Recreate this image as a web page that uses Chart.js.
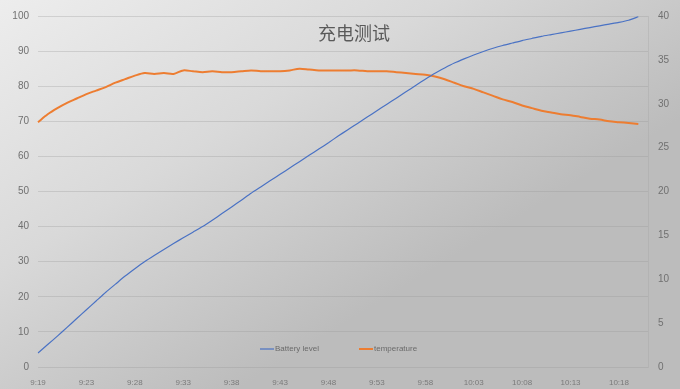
<!DOCTYPE html>
<html>
<head>
<meta charset="utf-8">
<script src="https://cdn.jsdelivr.net/npm/chart.js@4.4.0/dist/chart.umd.min.js"></script>
<style>
  html, body { margin: 0; padding: 0; background: #d8d8d8; }
  #wrap { width: 680px; height: 389px; position: relative; }
</style>
</head>
<body>
<div id="wrap"><canvas id="c" width="680" height="389"></canvas></div>
<script>
const chartTitle = "充电测试";
const timeLabels = [
  "9:19","9:20","9:21","9:22","9:22","9:23","9:24","9:25","9:26","9:27",
  "9:28","9:29","9:30","9:31","9:32","9:33","9:34","9:35","9:36","9:37",
  "9:38","9:39","9:40","9:41","9:42","9:43","9:44","9:45","9:46","9:47",
  "9:48","9:49","9:50","9:51","9:52","9:53","9:54","9:55","9:56","9:57",
  "9:58","9:59","10:00","10:01","10:02","10:03","10:04","10:05","10:06","10:07",
  "10:08","10:09","10:10","10:11","10:12","10:13","10:14","10:15","10:16","10:17",
  "10:18","10:19","10:20","10:21"
];
const batteryLevel = [
  4, 6.4, 8.8, 11.3, 13.8, 16.3, 18.8, 21.3, 23.6, 25.9,
  28, 30, 31.8, 33.5, 35.2, 36.8, 38.4, 40, 41.8, 43.7,
  45.6, 47.5, 49.5, 51.3, 53.1, 54.9, 56.7, 58.5, 60.3, 62.1,
  63.9, 65.8, 67.6, 69.4, 71.2, 73.0, 74.8, 76.6, 78.4, 80.2,
  82.0, 83.7, 85.2, 86.6, 87.8, 88.9, 89.9, 90.8, 91.6, 92.3,
  93.0, 93.6, 94.2, 94.7, 95.2, 95.7, 96.2, 96.7, 97.2, 97.7,
  98.2, 98.8, 99.8, null
];
const temperature = [
  27.9, 28.8, 29.5, 30.1, 30.6, 31.1, 31.5, 31.9, 32.4, 32.8,
  33.2, 33.5, 33.4, 33.5, 33.4, 33.8, 33.7, 33.6, 33.7, 33.6,
  33.6, 33.7, 33.8, 33.7, 33.7, 33.7, 33.8, 34.0, 33.9, 33.8,
  33.8, 33.8, 33.8, 33.8, 33.7, 33.7, 33.7, 33.6, 33.5, 33.4,
  33.3, 33.1, 32.8, 32.4, 32.0, 31.7, 31.3, 30.9, 30.5, 30.2,
  29.8, 29.5, 29.2, 29.0, 28.8, 28.7, 28.5, 28.3, 28.2, 28.0,
  27.9, 27.8, 27.7, null
];
const seriesNames = ["Battery level", "temperature"];
const seriesColors = ["#4a72c4", "#ed7d31"];

const bgPlugin = {
  id: 'bg',
  beforeDraw(chart) {
    const ctx = chart.ctx;
    const w = chart.width, h = chart.height;
    ctx.save();
    const g = ctx.createLinearGradient(0, 0, w * 0.35, h);
    g.addColorStop(0, '#ededed');
    g.addColorStop(0.5, '#d9d9d9');
    g.addColorStop(1, '#bcbcbc');
    ctx.fillStyle = g;
    ctx.fillRect(0, 0, w, h);
    ctx.restore();
  }
};

const overlayPlugin = {
  id: 'overlay',
  afterDraw(chart) {
    const ctx = chart.ctx;
    ctx.save();
    ctx.font = '18px "Noto Sans CJK SC", sans-serif';
    ctx.fillStyle = '#5a5a5a';
    ctx.textAlign = 'center';
    ctx.textBaseline = 'middle';
    ctx.fillText(chartTitle, 354, 33);
    ctx.font = '8px "Liberation Sans", Arial, sans-serif';
    ctx.textAlign = 'left';
    const starts = [260, 359];
    chart.data.datasets.forEach((ds, i) => {
      const x = starts[i], y = 349;
      ctx.strokeStyle = ds.borderColor;
      ctx.lineWidth = ds.borderWidth;
      ctx.beginPath();
      ctx.moveTo(x, y);
      ctx.lineTo(x + 14, y);
      ctx.stroke();
      ctx.fillStyle = '#6a6a6a';
      ctx.fillText(ds.label, x + 15, y);
    });
    ctx.restore();
  }
};

new Chart(document.getElementById('c'), {
  type: 'line',
  data: {
    labels: timeLabels,
    datasets: [
      {
        label: seriesNames[0],
        data: batteryLevel,
        borderColor: seriesColors[0],
        borderWidth: 1.2,
        pointRadius: 0,
        tension: 0.2,
        yAxisID: 'y'
      },
      {
        label: seriesNames[1],
        data: temperature,
        borderColor: seriesColors[1],
        borderWidth: 2,
        pointRadius: 0,
        tension: 0.3,
        yAxisID: 'y1'
      }
    ]
  },
  options: {
    responsive: false,
    animation: false,
    devicePixelRatio: 1,
    layout: { padding: { top: 13, left: 0, right: 0, bottom: 0 } },
    plugins: {
      legend: { display: false },
      title: { display: false },
      tooltip: { enabled: false }
    },
    scales: {
      x: {
        offset: false,
        grid: { display: false },
        border: { display: false },
        afterFit(s) { s.height = 22; },
        ticks: {
          autoSkip: false,
          maxRotation: 0,
          minRotation: 0,
          padding: 3,
          color: '#7a7a7a',
          font: { family: '"Liberation Sans", Arial, sans-serif', size: 8 },
          callback(v, i) { return (i % 5 === 0 && i <= 60) ? timeLabels[i] : ''; }
        }
      },
      y: {
        position: 'left',
        min: 0, max: 100,
        afterFit(s) { s.width = 38; },
        grid: { color: 'rgba(150,150,150,0.3)', lineWidth: 1, drawTicks: false },
        border: { display: false },
        ticks: {
          stepSize: 10,
          padding: 9,
          color: '#707070',
          font: { family: '"Liberation Sans", Arial, sans-serif', size: 10 }
        }
      },
      y1: {
        position: 'right',
        min: 0, max: 40,
        afterFit(s) { s.width = 32; },
        grid: { drawOnChartArea: false, drawTicks: false },
        border: { display: true, color: 'rgba(160,160,160,0.3)' },
        ticks: {
          stepSize: 5,
          padding: 10,
          color: '#707070',
          font: { family: '"Liberation Sans", Arial, sans-serif', size: 10 }
        }
      }
    }
  },
  plugins: [bgPlugin, overlayPlugin]
});
</script>
</body>
</html>
